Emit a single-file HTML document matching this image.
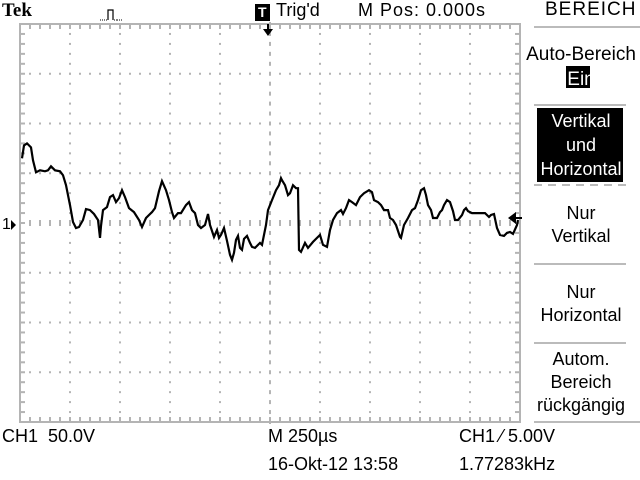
<!DOCTYPE html>
<html><head><meta charset="utf-8">
<style>
html,body{margin:0;padding:0;background:#fff;}
body{width:640px;height:480px;position:relative;overflow:hidden;font-family:"Liberation Sans Narrow","Liberation Sans",sans-serif;color:#000;}
.t{position:absolute;font-size:16px;line-height:18px;white-space:nowrap;}
.c{text-align:center;}
.m{font-size:18px;}
</style></head><body>
<svg width="640" height="480" style="position:absolute;left:0;top:0">
<g id="grid"></g>
<polyline id="trace" fill="none" stroke="#000" stroke-width="2.2" stroke-linejoin="miter"/>
<path d="M263,29 L273,29 L268,36 Z M267,24 L269,24 L269,30 L267,30 Z" fill="#000"/>
<path d="M508,218 L516,212 L516,224 Z M514,217 L522,217 L522,219 L514,219 Z" fill="#000"/>
<path d="M16,225 L11,220 L11,230 Z" fill="#000"/>
<path d="M100,20 L104,20 M104,20 L108,20 L108,10 L113,10 L113,20 L117,20 M117,20 L122,20" fill="none" stroke="#000" stroke-width="1" stroke-dasharray="1,1"/>
<path d="M108,20 L108,10 L113,10 L113,20" fill="none" stroke="#000" stroke-width="1.2"/>
<rect x="255" y="4" width="15" height="17" fill="#000"/>
<g stroke="#bbb" stroke-width="2">
<line x1="534" y1="27" x2="640" y2="27"/>
<line x1="534" y1="105" x2="626" y2="105"/>
<line x1="534" y1="185" x2="626" y2="185" stroke-dasharray="8,6"/>
<line x1="534" y1="264" x2="626" y2="264"/>
<line x1="534" y1="343" x2="626" y2="343"/>
<line x1="534" y1="422" x2="640" y2="422"/>
</g>
<rect x="566" y="66" width="24" height="22" fill="#000"/>
<rect x="537" y="108" width="86" height="74" fill="#000"/>
</svg>
<div class="t" style="left:2px;top:2px;font-family:'Liberation Serif',serif;font-weight:bold;font-size:19px;">Tek</div>
<div class="t" style="left:258px;top:3px;color:#fff;font-weight:bold;font-size:14px;">T</div>
<div class="t m" style="left:276px;top:1px;">Trig'd</div>
<div class="t m" style="left:358px;top:1px;letter-spacing:1px;">M Pos: 0.000s</div>
<div class="t" style="left:545px;top:1px;font-size:19px;letter-spacing:1px;">BEREICH</div>
<div class="t c" style="left:522px;width:118px;top:42px;font-size:19px;line-height:25px;">Auto-Bereich<br><span style="color:#fff">Ein</span></div>
<div class="t c m" style="left:522px;width:118px;top:109px;color:#fff;line-height:24px;">Vertikal<br>und<br>Horizontal</div>
<div class="t c m" style="left:522px;width:118px;top:202px;line-height:23px;">Nur<br>Vertikal</div>
<div class="t c m" style="left:522px;width:118px;top:281px;line-height:23px;">Nur<br>Horizontal</div>
<div class="t c m" style="left:522px;width:118px;top:348px;line-height:23px;">Autom.<br>Bereich<br>rückgängig</div>
<div class="t" style="left:2px;top:216px;font-size:16px;">1</div>
<div class="t m" style="left:2px;top:427px;">CH1&nbsp;&nbsp;50.0V</div>
<div class="t m" style="left:268px;top:427px;">M 250µs</div>
<div class="t m" style="left:459px;top:427px;">CH1 ⁄ 5.00V</div>
<div class="t m" style="left:268px;top:455px;">16-Okt-12 13:58</div>
<div class="t m" style="left:459px;top:455px;">1.77283kHz</div>
<script>
const timesUs=[10,20,35,55,65,80,100,125,140,155,175,200,215,230,250,265,280,295,315,330,350,370,390,400,405,415,435,450,465,480,495,510,525,545,570,595,610,630,645,660,675,695,710,730,745,760,770,790,805,830,845,860,875,890,905,925,940,950,970,985,995,1005,1020,1035,1050,1060,1070,1080,1090,1100,1110,1120,1135,1150,1160,1175,1190,1200,1210,1215,1230,1240,1260,1280,1295,1305,1310,1325,1340,1350,1365,1380,1390,1395,1405,1425,1440,1465,1485,1500,1515,1535,1550,1565,1585,1605,1615,1630,1645,1660,1680,1700,1720,1745,1760,1770,1790,1805,1820,1840,1850,1865,1880,1900,1905,1920,1940,1960,1975,1990,2005,2020,2030,2040,2055,2065,2085,2100,2110,2120,2135,2150,2165,2175,2190,2210,2220,2230,2240,2260,2290,2310,2325,2345,2355,2370,2385,2400,2420,2435,2450,2465,2485,2490];
const voltsV=[65,78,80,76,63,51,53,52,53,57,53,52,48,38,18,1,-5,-4,3,14,13,9,3,-15,-3,13,16,26,28,21,25,33,26,15,11,3,-4,5,8,11,15,32,42,33,23,11,5,10,10,18,21,13,10,-2,-5,-2,9,-2,-14,-7,-15,-12,-5,-18,-32,-37,-30,-17,-13,-25,-27,-16,-13,-20,-24,-25,-22,-20,-22,-17,-2,13,23,33,38,45,43,38,28,30,38,35,35,-27,-29,-20,-25,-19,-15,-12,-22,-24,-7,3,10,13,9,15,23,21,18,26,30,33,31,23,21,18,13,13,5,3,-2,-14,-15,-2,5,13,15,23,33,35,28,18,13,5,5,11,13,18,23,21,12,3,3,8,13,15,12,10,10,10,10,6,8,9,-5,-12,-13,-10,-9,-11,-2,3];
const L=20,R=520,T=24,B=422,HD=10,VD=8,TSPAN=2500,VPERDIV=50;
const dx=(R-L)/HD, dy=(B-T)/VD, CY=(T+B)/2;
function xs(t){return L+t/TSPAN*(R-L);}
function ys(v){return CY-v/VPERDIV*dy;}
const NS='http://www.w3.org/2000/svg';
const g=document.getElementById('grid');
function rect(x,y,w,h,c){const r=document.createElementNS(NS,'rect');r.setAttribute('x',x);r.setAttribute('y',y);r.setAttribute('width',w);r.setAttribute('height',h);r.setAttribute('fill',c);g.appendChild(r);return r;}
const gc='#b4b4b4';
rect(L-1,T-1,R-L+2,2,gc);rect(L-1,B-1,R-L+2,2,gc);rect(L-1,T-1,2,B-T+2,gc);rect(R-1,T-1,2,B-T+2,gc);
for(let i=1;i<HD;i++){const x=L+i*dx;for(let j=0;j<=VD*5;j++){const y=T+j*dy/5;if(i===5)rect(x-1,y-2,2,4,gc);else rect(x-1,y-1,2,2,gc);}}
for(let j=1;j<VD;j++){const y=T+j*dy;for(let i=0;i<=HD*5;i++){const x=L+i*dx/5;if(j===4)rect(x-1,y-3,2,6,gc);else rect(x-1,y-1,2,2,gc);}}
for(let i=0;i<=HD*5;i++){const x=L+i*dx/5;rect(x-1,T,2,5,gc);rect(x-1,B-5,2,5,gc);}
for(let j=0;j<=VD*5;j++){const y=T+j*dy/5;rect(L,y-1,5,2,gc);rect(R-5,y-1,5,2,gc);}
const pts=timesUs.map((t,i)=>xs(t).toFixed(1)+','+ys(voltsV[i]).toFixed(1)).join(' ');
document.getElementById('trace').setAttribute('points',pts);
</script>
</body></html>
